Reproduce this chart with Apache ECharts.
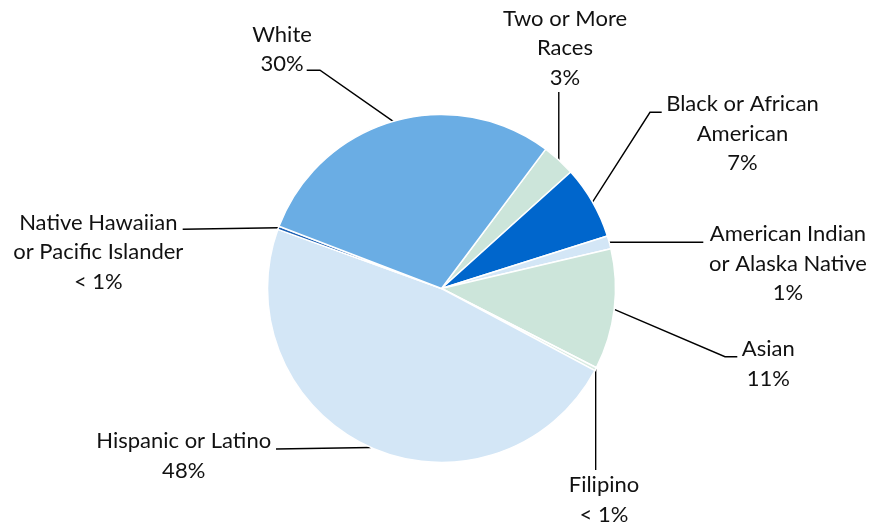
<!DOCTYPE html>
<html>
<head>
<meta charset="utf-8">
<script src="https://cdn.jsdelivr.net/npm/echarts@6/dist/echarts.min.js"></script>
<style>
  html, body { margin: 0; padding: 0; background: #fff; }
  #chart { width: 876px; height: 525px; }
</style>
</head>
<body>
<div id="chart"></div>
<script>
// ---- data ----
const categories = ['Two or More Races', 'Black or African American', 'American Indian or Alaska Native',
  'Asian', 'Filipino', 'Hispanic or Latino', 'Native Hawaiian or Pacific Islander', 'White'];
const labelNames = ['Two or More\nRaces', 'Black or African\nAmerican', 'American Indian\nor Alaska Native',
  'Asian', 'Filipino', 'Hispanic or Latino', 'Native Hawaiian\nor Pacific Islander', 'White'];
const values = [3.1, 6.8, 1.2, 11.2, 0.3, 47.7, 0.3, 29.4];
const pctLabels = ['3%', '7%', '1%', '11%', '< 1%', '48%', '< 1%', '30%'];

// ---- style ----
const colors = ['#CCE5DA', '#0066CC', '#D3E6F6', '#CCE5DA', '#D9EBE2', '#D3E6F6', '#1F62B4', '#6AADE4'];
// label placement (label block centre and leader-line path after the slice edge point)
const placement = [
  { x: 565, y: 48, path: s => [s, [s[0], 92]] },
  { x: 742.5, y: 133.5, path: s => [s, [650, 112.3], [661.7, 112.3]] },
  { x: 788, y: 263.5, path: s => [s, [703.3, s[1]]] },
  { x: 768.3, y: 364, path: s => [s, [725, 356.7], [737.3, 356.7]] },
  { x: 604, y: 500, path: s => [s, [s[0], 470]] },
  { x: 183.7, y: 455.7, path: s => [s, [276, s[1] + 1.5]] },
  { x: 98.3, y: 252, path: s => [s, [182.7, s[1] + 1.5]] },
  { x: 282, y: 49.2, path: s => [s, [320, 70.3], [306.7, 70.3]] }
];

const chart = echarts.init(document.getElementById('chart'), null, { renderer: 'canvas' });
chart.setOption({
  backgroundColor: '#fff',
  animation: false,
  series: [{
    type: 'pie',
    center: [441.5, 288.5],
    radius: 174,
    startAngle: 53.2,
    clockwise: true,
    avoidLabelOverlap: false,
    itemStyle: { borderColor: '#fff', borderWidth: 1.5 },
    label: {
      show: true,
      position: 'outside',
      fontFamily: 'Lato',
      fontSize: 22,
      lineHeight: 29.5,
      color: '#111',
      align: 'center',
      formatter: p => labelNames[p.dataIndex] + '\n' + pctLabels[p.dataIndex]
    },
    labelLine: { show: true, smooth: false, lineStyle: { color: '#000', width: 1.4 } },
    labelLayout: function (params) {
      const pl = placement[params.dataIndex];
      const s = params.labelLinePoints ? params.labelLinePoints[0] : [0, 0];
      return {
        x: pl.x, y: pl.y, align: 'center', verticalAlign: 'middle',
        labelLinePoints: pl.path([s[0], s[1]])
      };
    },
    emphasis: { disabled: true },
    data: categories.map((c, i) => ({ name: c, value: values[i], itemStyle: { color: colors[i] } }))
  }]
});
</script>
</body>
</html>
